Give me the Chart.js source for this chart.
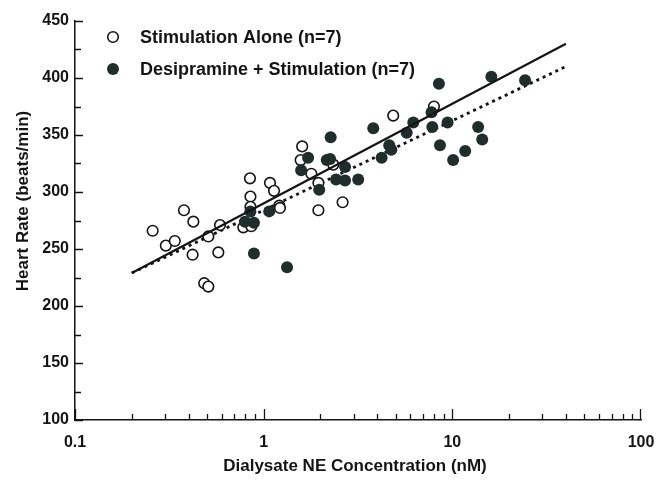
<!DOCTYPE html>
<html>
<head>
<meta charset="utf-8">
<script src="https://cdn.jsdelivr.net/npm/chart.js@4/dist/chart.umd.min.js"></script>
<style>
  html, body { margin: 0; padding: 0; background: #fff; }
  #wrap { width: 658px; height: 480px; }
</style>
</head>
<body>
<div id="wrap"><canvas id="c" width="658" height="480"></canvas></div>
<script>
// ---- data ----
const seriesLabels = ['Stimulation Alone (n=7)', 'Desipramine + Stimulation (n=7)'];
const aloneX = [0.258,0.303,0.338,0.378,0.424,0.42,0.484,0.509,0.509,0.587,0.575,0.846,0.851,0.851,0.78,0.86,1.08,1.135,1.21,1.22,1.95,2.62,1.6,1.57,1.79,1.95,2.34,4.86,7.99];
const aloneY = [266,253,257,284,274,245,220,217,261,271,247,312,296,287,269,270,308,301,288,286,284,291,340,328,316,308,324,367,375];
const desipX = [0.796,0.85,0.888,0.888,1.07,1.33,1.72,1.58,2.16,2.25,2.265,2.7,2.42,2.7,1.97,3.17,3.81,4.22,4.63,4.75,5.73,6.21,8.49,7.76,7.83,8.6,9.44,10.1,11.7,13.7,14.4,16.1,24.3];
const desipY = [274,283,273,246,283,234,330,319,328,329,348,322,311,310,302,311,356,330,341,337,352,361,395,370,357,341,361,328,336,357,346,401,398];
const fitAloneX = [0.2, 40];
const fitAloneY = [229, 430];
const fitDesipX = [0.2, 40];
const fitDesipY = [229, 410];
const xTickValues = [0.1, 1, 10, 100];
const xTickLabels = ['0.1', '1', '10', '100'];
const yTickValues = [100, 150, 200, 250, 300, 350, 400, 450];
const xTitle = 'Dialysate NE Concentration (nM)';
const yTitle = 'Heart Rate (beats/min)';

const FONT = '"Liberation Sans", Arial, Helvetica, sans-serif';
const INK = '#141414';
const DARK = '#1f2e2a';

const toPts = (xs, ys) => xs.map((v, i) => ({ x: v, y: ys[i] }));

// inward ticks drawn from the scales
const tickPlugin = {
  id: 'inTicks',
  afterDraw(chart) {
    const { ctx, chartArea: a, scales: { x, y } } = chart;
    ctx.save();
    ctx.strokeStyle = INK;
    ctx.lineWidth = 1.3;
    ctx.beginPath();
    for (let d = -1; d <= 1; d++) {
      for (let m = 1; m <= 9; m++) {
        const v = m * Math.pow(10, d);
        const px = Math.round(x.getPixelForValue(v)) + 0.5;
        const len = m === 1 ? 11 : 6;
        ctx.moveTo(px, a.bottom); ctx.lineTo(px, a.bottom - len);
      }
    }
    const p100 = Math.round(x.getPixelForValue(100)) - 0.5;
    ctx.moveTo(p100, a.bottom); ctx.lineTo(p100, a.bottom - 11);
    for (let v = 100; v <= 450; v += 25) {
      const py = Math.round(y.getPixelForValue(v)) + 0.5;
      const len = (v % 50 === 0) ? 8 : 6;
      ctx.moveTo(a.left, py); ctx.lineTo(a.left + len, py);
    }
    ctx.stroke();
    ctx.restore();
  }
};

// axis titles
const titlePlugin = {
  id: 'axisTitles',
  afterDraw(chart) {
    const { ctx, chartArea: a } = chart;
    ctx.save();
    ctx.fillStyle = INK;
    ctx.font = 'bold 17px ' + FONT;
    ctx.textAlign = 'center';
    ctx.textBaseline = 'middle';
    ctx.fillText(xTitle, (a.left + a.right) / 2 - 3, 466);
    ctx.translate(23, 201);
    ctx.rotate(-Math.PI / 2);
    ctx.fillText(yTitle, 0, 0);
    ctx.restore();
  }
};

// legend inside the plot
const legendPlugin = {
  id: 'innerLegend',
  afterDraw(chart) {
    const { ctx } = chart;
    const items = [
      { ds: chart.data.datasets[2], y: 37 },
      { ds: chart.data.datasets[1], y: 69 }
    ];
    ctx.save();
    ctx.font = 'bold 18px ' + FONT;
    ctx.textBaseline = 'middle';
    ctx.textAlign = 'left';
    items.forEach(it => {
      ctx.beginPath();
      ctx.arc(113, it.y, it.ds.pointRadius, 0, Math.PI * 2);
      ctx.fillStyle = it.ds.pointBackgroundColor;
      ctx.fill();
      if (it.ds.pointBorderWidth > 0) {
        ctx.lineWidth = it.ds.pointBorderWidth;
        ctx.strokeStyle = it.ds.pointBorderColor;
        ctx.stroke();
      }
      ctx.fillStyle = INK;
      ctx.fillText(it.ds.label, 140, it.y + 1);
    });
    ctx.restore();
  }
};

new Chart(document.getElementById('c'), {
  type: 'scatter',
  data: {
    datasets: [
      {
        label: 'Fit: stimulation alone',
        data: toPts(fitAloneX, fitAloneY),
        showLine: true, borderColor: INK, borderWidth: 2.2,
        pointRadius: 0, fill: false
      },
      {
        label: seriesLabels[1],
        data: toPts(desipX, desipY),
        pointRadius: 6, pointBorderWidth: 0,
        pointBackgroundColor: DARK, pointBorderColor: DARK,
        backgroundColor: DARK, borderColor: DARK
      },
      {
        label: seriesLabels[0],
        data: toPts(aloneX, aloneY),
        pointRadius: 5.3, pointBorderWidth: 1.6,
        pointBackgroundColor: '#ffffff', pointBorderColor: INK,
        backgroundColor: '#ffffff', borderColor: INK
      },
      {
        label: 'Fit: desipramine',
        data: toPts(fitDesipX, fitDesipY),
        showLine: true, borderColor: INK, borderWidth: 2.8,
        borderDash: [3, 4], borderCapStyle: 'butt',
        pointRadius: 0, fill: false
      }
    ]
  },
  options: {
    responsive: false,
    devicePixelRatio: 1,
    animation: false,
    layout: { padding: { left: 0, right: 17, top: 21, bottom: 0 } },
    plugins: { legend: { display: false }, tooltip: { enabled: false } },
    scales: {
      x: {
        type: 'logarithmic',
        min: 0.1, max: 100,
        grid: { display: false, drawTicks: false },
        border: { display: true, color: INK, width: 1.5 },
        afterBuildTicks: s => { s.ticks = xTickValues.map(v => ({ value: v, major: true })); },
        afterFit: s => { s.height = 60; s.paddingLeft = 0; s.paddingRight = 0; },
        ticks: {
          autoSkip: false, maxRotation: 0, padding: 13,
          color: INK, font: { family: FONT, size: 16, weight: 'bold' },
          callback: (v) => xTickLabels[xTickValues.indexOf(v)] ?? ''
        }
      },
      y: {
        min: 100, max: 450,
        grid: { display: false, drawTicks: false },
        border: { display: true, color: INK, width: 1.5 },
        afterBuildTicks: s => { s.ticks = yTickValues.map(v => ({ value: v })); },
        afterFit: s => { s.width = 75; s.paddingTop = 0; s.paddingBottom = 0; },
        ticks: {
          padding: 6,
          color: INK, font: { family: FONT, size: 16, weight: 'bold' }
        }
      }
    }
  },
  plugins: [tickPlugin, titlePlugin, legendPlugin]
});
</script>
</body>
</html>
